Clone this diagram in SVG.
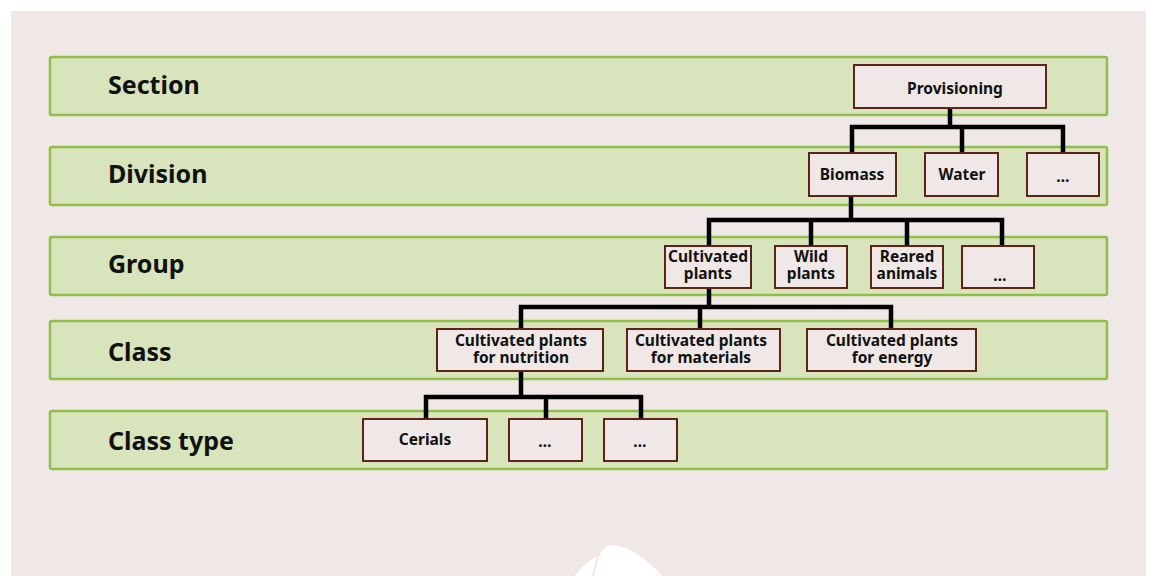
<svg xmlns="http://www.w3.org/2000/svg" width="1151" height="576" viewBox="0 0 1151 576">
<style>
.band{fill:#d8e4bc;stroke:#8fbf48;stroke-width:2.5}
.lbl{font-family:"Noto Sans","Open Sans",sans-serif;font-weight:bold;font-size:25px;fill:#111}
.node{fill:#f0e8e6;stroke:#5e2218;stroke-width:2}
.nt{font-family:"Noto Sans","Open Sans",sans-serif;font-weight:bold;font-size:15.5px;fill:#111;text-anchor:middle}
.conn{fill:none;stroke:#000;stroke-width:4.5;stroke-linejoin:miter;stroke-linecap:butt}
</style>
<rect x="0" y="0" width="1151" height="576" fill="#ffffff"/>
<rect x="11" y="11" width="1135" height="565" fill="#f0e8e6"/>
<g id="blob" fill="#ffffff">
<path d="M575,576 Q585,563 597,556 L592,576 Z"/>
<path d="M594,576 L599,557 Q603,546 612,545 Q636,547 662,576 Z"/>
</g>
<g id="bands">
<g id="band-section"><rect class="band" x="50" y="57" width="1057" height="58" rx="2"/><text class="lbl" x="108" y="94">Section</text></g>
<g id="band-division"><rect class="band" x="50" y="147" width="1057" height="58" rx="2"/><text class="lbl" x="108" y="183">Division</text></g>
<g id="band-group"><rect class="band" x="50" y="237" width="1057" height="58" rx="2"/><text class="lbl" x="108" y="273">Group</text></g>
<g id="band-class"><rect class="band" x="50" y="321" width="1057" height="58" rx="2"/><text class="lbl" x="108" y="361">Class</text></g>
<g id="band-classtype"><rect class="band" x="50" y="411" width="1057" height="58" rx="2"/><text class="lbl" x="108" y="450">Class type</text></g>
</g>
<g id="connectors">
<path class="conn" d="M950,108 V127 M852,153 V127 H1063 V153 M962,127 V153"/>
<path class="conn" d="M851,196 V220 M709,246 V220 H1002 V246 M811,220 V246 M907,220 V246"/>
<path class="conn" d="M709,288 V307 M521,329 V307 H891 V329 M700,307 V329"/>
<path class="conn" d="M521,371 V397 M426,419 V397 H641 V419 M546,397 V419"/>
</g>
<g id="n-provisioning"><rect class="node" x="854" y="65" width="192" height="43"/><text class="nt" x="955" y="94">Provisioning</text></g>
<g id="n-biomass"><rect class="node" x="809" y="153" width="87" height="43"/><text class="nt" x="852" y="180">Biomass</text></g>
<g id="n-water"><rect class="node" x="925" y="153" width="73" height="43"/><text class="nt" x="962" y="180">Water</text></g>
<g id="n-div-more"><rect class="node" x="1027" y="153" width="72" height="43"/><text class="nt" x="1063" y="182">…</text></g>
<g id="n-cultivated"><rect class="node" x="665" y="246" width="86" height="42"/><text class="nt" x="708" y="262">Cultivated</text><text class="nt" x="708" y="279">plants</text></g>
<g id="n-wild"><rect class="node" x="775" y="246" width="72" height="42"/><text class="nt" x="811" y="262">Wild</text><text class="nt" x="811" y="279">plants</text></g>
<g id="n-reared"><rect class="node" x="871" y="246" width="72" height="42"/><text class="nt" x="907" y="262">Reared</text><text class="nt" x="907" y="279">animals</text></g>
<g id="n-group-more"><rect class="node" x="962" y="246" width="72" height="42"/><text class="nt" x="1000" y="281">…</text></g>
<g id="n-nutrition"><rect class="node" x="437" y="329" width="166" height="42"/><text class="nt" x="521" y="346">Cultivated plants</text><text class="nt" x="521" y="363">for nutrition</text></g>
<g id="n-materials"><rect class="node" x="627" y="329" width="153" height="42"/><text class="nt" x="701" y="346">Cultivated plants</text><text class="nt" x="701" y="363">for materials</text></g>
<g id="n-energy"><rect class="node" x="807" y="329" width="169" height="42"/><text class="nt" x="892" y="346">Cultivated plants</text><text class="nt" x="892" y="363">for energy</text></g>
<g id="n-cerials"><rect class="node" x="363" y="419" width="124" height="42"/><text class="nt" x="425" y="445">Cerials</text></g>
<g id="n-ct-more1"><rect class="node" x="509" y="419" width="73" height="42"/><text class="nt" x="545" y="447">…</text></g>
<g id="n-ct-more2"><rect class="node" x="604" y="419" width="73" height="42"/><text class="nt" x="640" y="447">…</text></g>
</svg>
